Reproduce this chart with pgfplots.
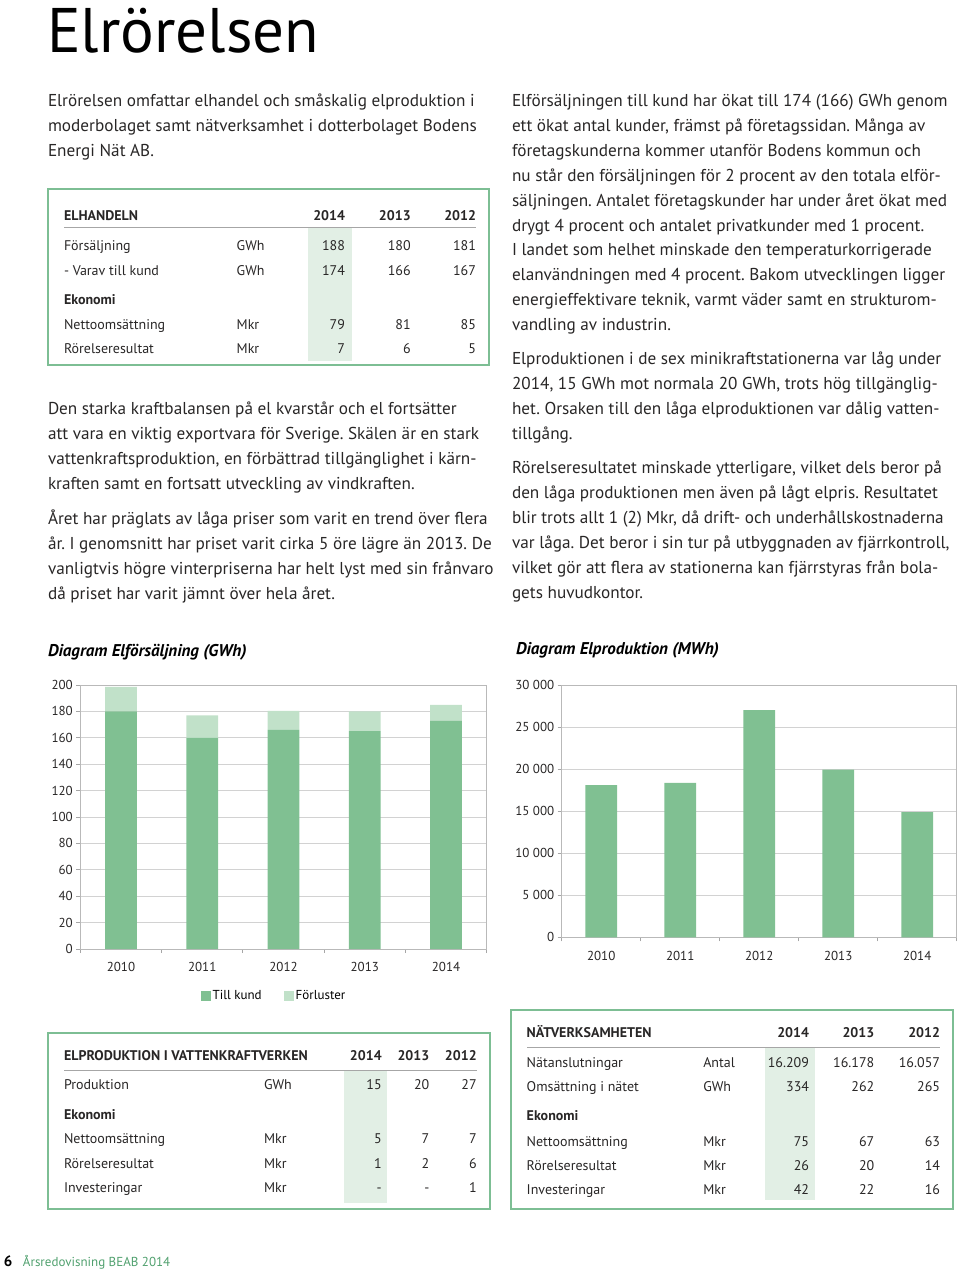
\documentclass[border=0pt]{standalone}
\usepackage{pgfplots}
\pgfplotsset{compat=1.18}
\usepackage{fontspec}
\setmainfont{PT Sans}
\frenchspacing
\definecolor{tkund}{RGB}{128,192,146}
\definecolor{tforl}{RGB}{193,225,201}
\definecolor{tgreen}{RGB}{125,190,148}
\definecolor{hl}{RGB}{226,239,229}
\definecolor{txt}{RGB}{40,38,38}
\definecolor{footgreen}{RGB}{80,160,110}
\newcommand\fs[1]{\fontsize{#1pt}{#1pt}\selectfont}
\newcommand\bl[3]{\node[anchor=base west,font=\fs{17.2}] at (#1,#2) {#3};}
\newcommand\tl[3]{\node[anchor=base west,font=\fs{14}] at (#1,#2) {#3};}
\newcommand\tb[3]{\node[anchor=base west,font=\fs{14}\bfseries] at (#1,#2) {#3};}
\newcommand\tr[3]{\node[anchor=base east,font=\fs{14}] at (#1,#2) {#3};}
\newcommand\trb[3]{\node[anchor=base east,font=\fs{14}\bfseries] at (#1,#2) {#3};}
\begin{document}
\begin{tikzpicture}
\useasboundingbox (0,0) rectangle (960pt,-1274pt);
\begin{scope}[x=1pt,y=-1pt, every node/.style={inner sep=0pt, outer sep=0pt, text=txt}]
% title
\node[anchor=base west,font=\fs{63},text=black] at (47,52) {Elrörelsen};
% left column text
\bl{48}{106}{Elrörelsen omfattar elhandel och småskalig elproduktion i}
\bl{48}{131}{moderbolaget samt nätverksamhet i dotterbolaget Bodens}
\bl{48}{156}{Energi Nät AB.}
\bl{48}{414}{Den starka kraftbalansen på el kvarstår och el fortsätter}
\bl{48}{439}{att vara en viktig exportvara för Sverige. Skälen är en stark}
\bl{48}{464}{vattenkraftsproduktion, en förbättrad tillgänglighet i kärn-}
\bl{48}{489}{kraften samt en fortsatt utveckling av vindkraften.}
\bl{48}{524}{Året har präglats av låga priser som varit en trend över flera}
\bl{48}{549}{år. I genomsnitt har priset varit cirka 5 öre lägre än 2013. De}
\bl{48}{574}{vanligtvis högre vinterpriserna har helt lyst med sin frånvaro}
\bl{48}{599}{då priset har varit jämnt över hela året.}
% right column text
\bl{512}{106}{Elförsäljningen till kund har ökat till 174 (166) GWh genom}
\bl{512}{131}{ett ökat antal kunder, främst på företagssidan. Många av}
\bl{512}{156}{företagskunderna kommer utanför Bodens kommun och}
\bl{512}{181}{nu står den försäljningen för 2 procent av den totala elför-}
\bl{512}{206}{säljningen. Antalet företagskunder har under året ökat med}
\bl{512}{231}{drygt 4 procent och antalet privatkunder med 1 procent.}
\bl{512}{255}{I landet som helhet minskade den temperaturkorrigerade}
\bl{512}{280}{elanvändningen med 4 procent. Bakom utvecklingen ligger}
\bl{512}{305}{energieffektivare teknik, varmt väder samt en strukturom-}
\bl{512}{330}{vandling av industrin.}
\bl{512}{364}{Elproduktionen i de sex minikraftstationerna var låg under}
\bl{512}{389}{2014, 15 GWh mot normala 20 GWh, trots hög tillgänglig-}
\bl{512}{414}{het. Orsaken till den låga elproduktionen var dålig vatten-}
\bl{512}{439}{tillgång.}
\bl{512}{473}{Rörelseresultatet minskade ytterligare, vilket dels beror på}
\bl{512}{498}{den låga produktionen men även på lågt elpris. Resultatet}
\bl{512}{523}{blir trots allt 1 (2) Mkr, då drift- och underhållskostnaderna}
\bl{512}{548}{var låga. Det beror i sin tur på utbyggnaden av fjärrkontroll,}
\bl{512}{573}{vilket gör att flera av stationerna kan fjärrstyras från bola-}
\bl{512}{598}{gets huvudkontor.}
% ---- Table 1
\fill[hl] (307.7,227.5) rectangle (351.7,361);
\draw[gray!70, line width=1pt] (64,227.3) -- (476,227.3);
\draw[tgreen, line width=1.8pt] (48.3,189.3) rectangle (489,365);
\tb{64}{220}{ELHANDELN}
\trb{345}{220}{2014}\trb{410.7}{220}{2013}\trb{476}{220}{2012}
\tl{64}{250}{Försäljning}\tl{236.7}{250}{GWh}\tr{345}{250}{188}\tr{410.7}{250}{180}\tr{476}{250}{181}
\tl{64}{275}{- Varav till kund}\tl{236.7}{275}{GWh}\tr{345}{275}{174}\tr{410.7}{275}{166}\tr{476}{275}{167}
\tb{64}{304}{Ekonomi}
\tl{64}{329}{Nettoomsättning}\tl{236.7}{329}{Mkr}\tr{345}{329}{79}\tr{410.7}{329}{81}\tr{476}{329}{85}
\tl{64}{353}{Rörelseresultat}\tl{236.7}{353}{Mkr}\tr{345}{353}{7}\tr{410.7}{353}{6}\tr{476}{353}{5}
% ---- Table 2
\fill[hl] (344,1070) rectangle (387.3,1203);
\draw[gray!70, line width=1pt] (64,1070) -- (477,1070);
\draw[tgreen, line width=1.8pt] (48.3,1032.7) rectangle (490,1209);
\tb{64}{1060}{ELPRODUKTION I VATTENKRAFTVERKEN}
\trb{381.7}{1060}{2014}\trb{429.3}{1060}{2013}\trb{476.7}{1060}{2012}
\tl{64}{1089}{Produktion}\tl{264}{1089}{GWh}\tr{381.7}{1089}{15}\tr{429.3}{1089}{20}\tr{476.7}{1089}{27}
\tb{64}{1119}{Ekonomi}
\tl{64}{1143}{Nettoomsättning}\tl{264}{1143}{Mkr}\tr{381.7}{1143}{5}\tr{429.3}{1143}{7}\tr{476.7}{1143}{7}
\tl{64}{1168}{Rörelseresultat}\tl{264}{1168}{Mkr}\tr{381.7}{1168}{1}\tr{429.3}{1168}{2}\tr{476.7}{1168}{6}
\tl{64}{1192}{Investeringar}\tl{264}{1192}{Mkr}\tr{381.7}{1192}{-}\tr{429.3}{1192}{-}\tr{476.7}{1192}{1}
% ---- Table 3
\fill[hl] (765,1047.3) rectangle (815,1200);
\draw[gray!70, line width=1pt] (527,1047.3) -- (940,1047.3);
\draw[tgreen, line width=1.8pt] (511,1010) rectangle (953.3,1209);
\tb{526.7}{1037}{NÄTVERKSAMHETEN}
\trb{809}{1037}{2014}\trb{874.3}{1037}{2013}\trb{940}{1037}{2012}
\tl{526.7}{1067}{Nätanslutningar}\tl{703.3}{1067}{Antal}\tr{809}{1067}{16.209}\tr{874.3}{1067}{16.178}\tr{940}{1067}{16.057}
\tl{526.7}{1091}{Omsättning i nätet}\tl{703.3}{1091}{GWh}\tr{809}{1091}{334}\tr{874.3}{1091}{262}\tr{940}{1091}{265}
\tb{526.7}{1120}{Ekonomi}
\tl{526.7}{1146}{Nettoomsättning}\tl{703.3}{1146}{Mkr}\tr{809}{1146}{75}\tr{874.3}{1146}{67}\tr{940}{1146}{63}
\tl{526.7}{1170}{Rörelseresultat}\tl{703.3}{1170}{Mkr}\tr{809}{1170}{26}\tr{874.3}{1170}{20}\tr{940}{1170}{14}
\tl{526.7}{1194}{Investeringar}\tl{703.3}{1194}{Mkr}\tr{809}{1194}{42}\tr{874.3}{1194}{22}\tr{940}{1194}{16}
% chart titles
\node[anchor=base west,font=\fs{17}\bfseries\itshape,text=black] at (48,656) {Diagram Elförsäljning (GWh)};
\node[anchor=base west,font=\fs{17}\bfseries\itshape,text=black] at (516,654) {Diagram Elproduktion (MWh)};
% footer
\node[anchor=base west,font=\fs{15}\bfseries,text=black] at (4,1266) {6};
\node[anchor=base west,font=\fs{13},text=footgreen] at (23,1266) {Årsredovisning BEAB 2014};
\end{scope}
\pgfplotsset{
  pagechart/.style={
    scale only axis,
    xmin=-0.5, xmax=4.5,
    xtick={0,1,2,3,4}, xticklabels={2010,2011,2012,2013,2014},
    major x tick style={draw=none},
    minor xtick={-0.5,0.5,1.5,2.5,3.5,4.5},
    tick align=outside, tickpos=left,
    major tick length=4pt, minor tick length=4pt,
    tick style={gray!70, line width=0.8pt},
    ymajorgrids, grid style={gray!35, line width=0.9pt},
    axis line style={gray!55, line width=0.9pt},
    ticklabel style={font=\fs{13}, text=txt},
    scaled y ticks=false,
    xticklabel style={yshift=-6pt},
  }
}
\begin{axis}[pagechart,
  at={(80.3pt,-949pt)}, anchor=south west,
  width=406.4pt, height=264pt,
  ymin=0, ymax=200,
  ybar stacked, bar width=31.7pt,
  ytick={0,20,...,200}, yticklabels={0,20,40,60,80,100,120,140,160,180,200},
  legend style={at={(0.4766,-0.178)}, anchor=center, draw=none, fill=none,
     legend columns=2, font=\fs{13},
     /tikz/every even column/.append style={column sep=20pt}},
  legend image code/.code={\fill[#1] (0pt,-5pt) rectangle (10pt,5pt);},
]
\addplot[fill=tkund, draw=none] coordinates {(0,180) (1,160) (2,166) (3,165) (4,173)};
\addplot[fill=tforl, draw=none] coordinates {(0,18.5) (1,17) (2,14.5) (3,15) (4,12)};
\legend{Till kund, Förluster}
\end{axis}
\begin{axis}[pagechart,
  at={(561.7pt,-937.3pt)}, anchor=south west,
  width=395pt, height=252.3pt,
  ymin=0, ymax=30000,
  ybar, bar width=31.7pt,
  ytick={0,5000,...,30000}, yticklabels={0,5 000,10 000,15 000,20 000,25 000,30 000},
]
\addplot[fill=tkund, draw=none] coordinates {(0,18100) (1,18350) (2,27000) (3,19950) (4,14900)};
\end{axis}
\end{tikzpicture}
\end{document}
